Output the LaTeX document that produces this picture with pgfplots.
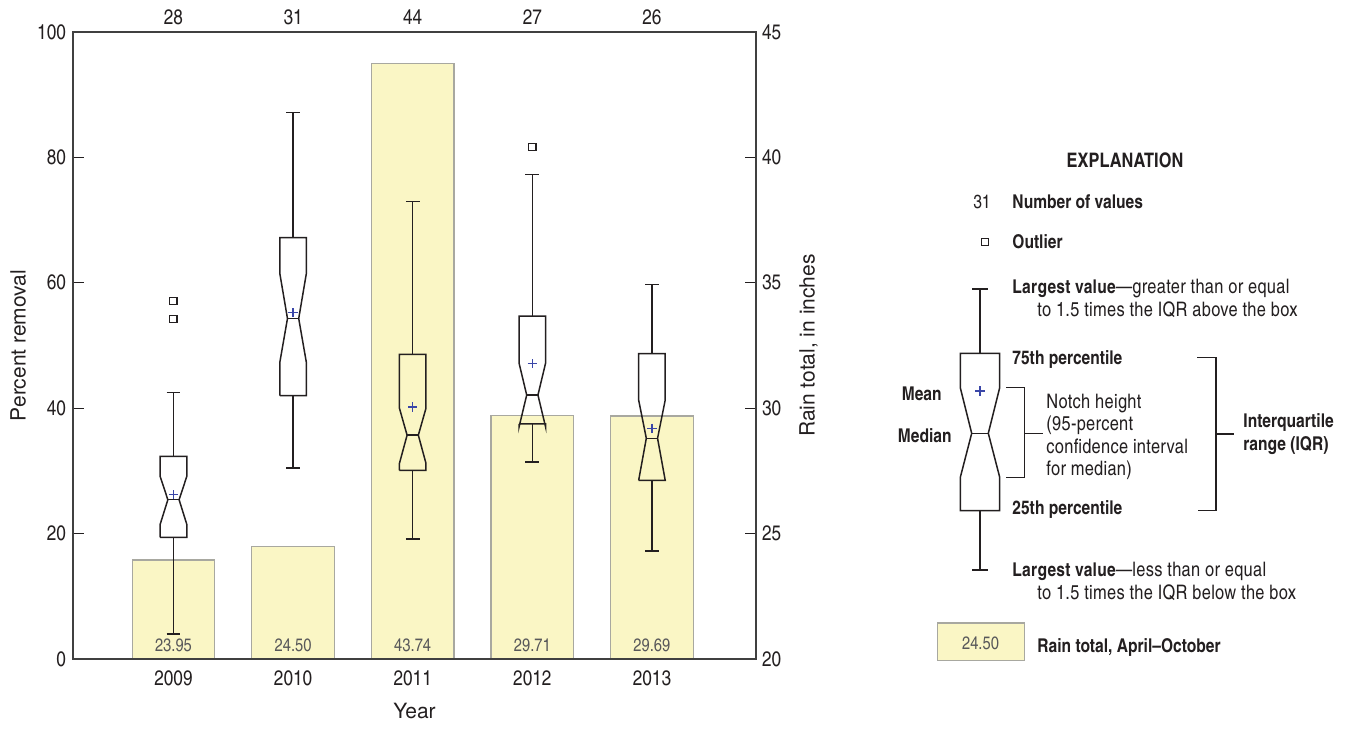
\documentclass[border=0pt]{standalone}
\usepackage{fontspec}
\setmainfont{TeX Gyre Heros Cn}
\newfontfamily\labelfont{TeX Gyre Heros}
\newfontfamily\legfont[LetterSpace=1.5]{TeX Gyre Heros Cn}
\usepackage{pgfplots}
\usepackage{pgfplotstable}
\pgfplotsset{compat=1.18}
\definecolor{ink}{HTML}{231F20}
\definecolor{rain}{HTML}{FAF6C5}
\definecolor{rainedge}{HTML}{A8A8A0}
\definecolor{meanc}{HTML}{3A46A8}
\definecolor{lbl}{HTML}{58585A}

\pgfplotstableread{
x  rain   lab    ly
0  23.95  23.95  20.56
1  24.50  24.50  20.56
2  43.74  43.74  20.56
3  29.71  29.71  20.56
4  29.69  29.69  20.56
}\raintab

% notched box: x, low whisker, q1, notch low, median, notch high, q3, up whisker
\newcommand\nbox[8]{%
  \pgfmathsetmacro\xa{#1-0.111}\pgfmathsetmacro\xb{#1+0.111}%
  \pgfmathsetmacro\xc{#1-0.047}\pgfmathsetmacro\xd{#1+0.047}%
  \pgfmathsetmacro\xe{#1-0.058}\pgfmathsetmacro\xf{#1+0.058}%
  \edef\tmp{%
  \noexpand\addplot[boxl] coordinates {(\xa,#3)(\xa,#4)(\xc,#5)(\xa,#6)(\xa,#7)(\xb,#7)(\xb,#6)(\xd,#5)(\xb,#4)(\xb,#3)(\xa,#3)};
  \noexpand\addplot[boxl] coordinates {(\xc,#5)(\xd,#5)};
  \noexpand\addplot[boxl] coordinates {(#1,#7)(#1,#8)};
  \noexpand\addplot[boxl] coordinates {(\xe,#8)(\xf,#8)};
  \noexpand\addplot[boxl] coordinates {(#1,#3)(#1,#2)};
  \noexpand\addplot[boxl] coordinates {(\xe,#2)(\xf,#2)};
  }\tmp}

\begin{document}
\begin{tikzpicture}
\path[use as bounding box] (0,0) rectangle (676pt,367pt);
\pgfplotsset{common/.style={scale only axis, width=341.5pt, height=313.5pt,
  at={(36.5pt,37.5pt)}, anchor=south west, xmin=-0.84, xmax=4.87,
  /pgf/number format/assume math mode=true,
  tick label style={font=\fontsize{10.5}{12}\selectfont, text=ink},
  label style={font=\labelfont\fontsize{10.5}{12}\selectfont, text=ink},
  tick align=inside, major tick length=5.5pt,
  tick style={ink, line width=0.7pt},
  boxl/.style={ink, line width=0.75pt, mark=none, forget plot}}}

\begin{axis}[common, ymin=20, ymax=45, ytick={20,25,...,45},
  ytick pos=right, yticklabel pos=right,
  xtick={0,1,2,3,4}, xticklabels={28,31,44,27,26}, xticklabel pos=upper,
  x tick style={draw=none}, axis line style={draw=none},
  yticklabel style={xshift=-0.5pt},
  ylabel={Rain total, in inches},
  ylabel style={at={(axis description cs:1.077,0.5)}, anchor=center}]
\addplot[ybar, bar width=0.69, fill=rain, draw=rainedge, line width=0.6pt]
  table[x=x, y=rain] {\raintab};
\addplot[draw=none, mark=none, nodes near coords, point meta=explicit symbolic,
  nodes near coords style={font=\fontsize{9}{10}\selectfont, text=lbl, anchor=center, inner sep=0pt}]
  table[x=x, y=ly, meta=lab] {\raintab};
\end{axis}

\begin{axis}[common, ymin=0, ymax=100, ytick={0,20,...,100}, ytick pos=left,
  xtick={0,1,2,3,4}, xticklabels={2009,2010,2011,2012,2013}, xtick pos=lower,
  x tick style={draw=none},
  axis line style={draw=black!75, line width=0.8pt},
  xticklabel style={yshift=-2.5pt},
  xlabel={Year}, ylabel={Percent removal},
  xlabel style={at={(axis description cs:0.5,-0.083)}, anchor=center},
  ylabel style={at={(axis description cs:-0.0805,0.5)}, anchor=center}]
\nbox{0}{4.0}{19.4}{21.5}{25.4}{29.1}{32.3}{42.5}
\nbox{1}{30.5}{42.0}{47.3}{54.3}{61.5}{67.2}{87.2}
\nbox{2}{19.1}{30.1}{31.2}{35.7}{40.0}{48.6}{73.0}
\nbox{3}{31.4}{37.5}{37.0}{42.1}{47.2}{54.7}{77.3}
\nbox{4}{17.2}{28.5}{28.5}{35.2}{41.3}{48.7}{59.7}
\addplot[only marks, mark=+, mark size=2.3pt, meanc, line width=0.6pt]
  coordinates {(0,26.2)(1,55.2)(2,40.2)(3,47.1)(4,36.8)};
\addplot[only marks, mark=square, mark size=1.8pt, ink, line width=0.6pt]
  coordinates {(0,54.2)(0,57.1)(3,81.7)};
\end{axis}

% Explanation
\begin{scope}[shift={(0,367pt)}, x=0.5pt, y=-0.5pt, ink,
  font=\legfont\fontsize{10}{11}\selectfont, inner sep=0pt]
\node[font=\fontsize{10}{12}\selectfont\bfseries] at (1125,160) {EXPLANATION};
\node[anchor=base east, font=\fontsize{9.5}{11}\selectfont] at (991,209) {31};
\node[anchor=base west, font=\fontsize{9.5}{11}\selectfont\bfseries] at (1012,209) {Number of values};
\draw[line width=0.6pt] (981.5,238.5) rectangle (988.5,245.5);
\node[anchor=base west, font=\fontsize{9.5}{11}\selectfont\bfseries] at (1012,249) {Outlier};
\node[anchor=base west] at (1012,294) {{\fontsize{9.5}{11}\selectfont\bfseries Largest value}—greater than or equal};
\node[anchor=base west] at (1037,317) {to 1.5 times the IQR above the box};
\node[anchor=base west, font=\fontsize{9.5}{11}\selectfont\bfseries] at (1012,364) {75th percentile};
\node[anchor=base east, font=\fontsize{9.5}{11}\selectfont\bfseries] at (942,400) {Mean};
\node[anchor=base east, font=\fontsize{9.5}{11}\selectfont\bfseries] at (952,442) {Median};
\node[anchor=base west] at (1046,408) {Notch height};
\node[anchor=base west] at (1046,430) {(95-percent};
\node[anchor=base west] at (1046,453) {confidence interval};
\node[anchor=base west] at (1046,475) {for median)};
\node[anchor=base west, font=\fontsize{9.5}{11}\selectfont\bfseries] at (1243,427) {Interquartile};
\node[anchor=base west, font=\fontsize{9.5}{11}\selectfont\bfseries] at (1243,450) {range (IQR)};
\node[anchor=base west, font=\fontsize{9.5}{11}\selectfont\bfseries] at (1012,514) {25th percentile};
\node[anchor=base west] at (1012,576) {{\fontsize{9.5}{11}\selectfont\bfseries Largest value}—less than or equal};
\node[anchor=base west] at (1037,599) {to 1.5 times the IQR below the box};
\draw[line width=0.6pt, draw=rainedge, fill=rain] (937.7,623) rectangle (1024.3,660.3);
\node[text=lbl, font=\fontsize{9}{10}\selectfont] at (980.5,643) {24.50};
\node[anchor=base west, font=\fontsize{9.5}{11}\selectfont\bfseries] at (1037,652) {Rain total, April–October};
\begin{scope}[line width=0.75pt]
\draw (972,289) -- (988,289) (980,289) -- (980,353.3);
\draw (960.3,510.7) -- (960.3,477.3) -- (971.7,433.3) -- (960.3,387.7) -- (960.3,353.3)
  -- (999.7,353.3) -- (999.7,387.7) -- (988.3,433.3) -- (999.7,477.3) -- (999.7,510.7) -- cycle;
\draw (971.7,433.3) -- (988.3,433.3);
\draw (980,510.7) -- (980,570) (972,570) -- (988,570);
\draw (1006,387.7) -- (1024.3,387.7) -- (1024.3,477.3) -- (1006,477.3) (1024.3,433.3) -- (1043.3,433.3);
\draw (1197.3,357.3) -- (1216,357.3) -- (1216,510.7) -- (1198.3,510.7) (1216,434) -- (1234.3,434);
\end{scope}
\draw[meanc, line width=0.55pt] (975,391) -- (985,391) (980,386) -- (980,396);
\end{scope}
\end{tikzpicture}
\end{document}
